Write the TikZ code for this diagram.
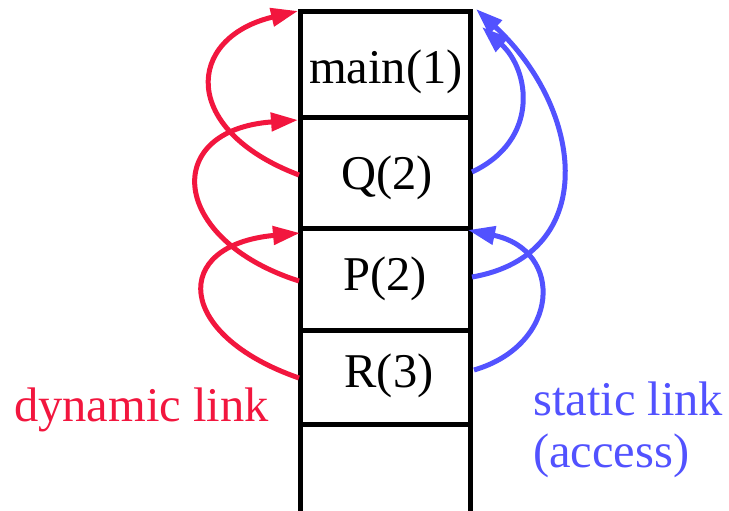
\documentclass[tikz,border=0pt]{standalone}
\usepackage{fontspec}
\setmainfont{Liberation Serif}
\usetikzlibrary{arrows.meta}
\definecolor{dynred}{RGB}{242,22,62}
\definecolor{statblue}{RGB}{82,82,255}
\begin{document}
\begin{tikzpicture}[x=1pt,y=-1pt,
  stackline/.style={line width=5pt,black},
  lbl/.style={font=\fontsize{48.5}{52}\selectfont,inner sep=0pt},
  dyn/.style={line width=5pt,dynred,-{Triangle[length=27pt,width=18pt]}},
  stat/.style={line width=5pt,statblue,-{Triangle[length=27pt,width=18pt]}}]
\useasboundingbox (0,0) rectangle (729,511);
% stack
\draw[stackline] (300,511) -- (300,12) -- (470,12) -- (470,511);
\draw[stackline] (300,118) -- (470,118);
\draw[stackline] (300,228) -- (470,228);
\draw[stackline] (300,330) -- (470,330);
\draw[stackline] (300,424) -- (470,424);
% frame labels
\node[lbl] (main) at (386,72) {main(1)};
\node[lbl] (Q) at (387,178) {Q(2)};
\node[lbl] (P) at (385,279) {P(2)};
\node[lbl] (R) at (389,376) {R(3)};
% anchor coordinates
\coordinate (mainTopL) at (298,11);
\coordinate (QTopL) at (298,120);
\coordinate (PTopL) at (300,233);
\coordinate (QL) at (299,175);
\coordinate (PL) at (299,281);
\coordinate (RL) at (299,378);
\coordinate (mainTopR) at (476,9);
\coordinate (mainTopR2) at (482,27);
\coordinate (PTopR) at (468,230);
\coordinate (QR) at (472,172);
\coordinate (PR) at (472,277);
\coordinate (RR) at (474,370);
% dynamic links
\draw[dyn] (QL) .. controls (180,130) and (185,38) .. (mainTopL);
\draw[dyn] (PL) .. controls (170,240) and (160,130) .. (QTopL);
\draw[dyn] (RL) .. controls (175,335) and (170,245) .. (PTopL);
% static links
\draw[stat] (QR) .. controls (540,140) and (530,70) .. (mainTopR2);
\draw[stat] (PR) .. controls (600,255) and (585,110) .. (mainTopR);
\draw[stat] (RR) .. controls (560,345) and (565,250) .. (PTopR);
% captions
\node[lbl,text=dynred,anchor=west] (dl) at (14,410) {dynamic link};
\node[lbl,text=statblue,anchor=west,align=left] (sl) at (533,430) {static link\\(access)};
\end{tikzpicture}
\end{document}
